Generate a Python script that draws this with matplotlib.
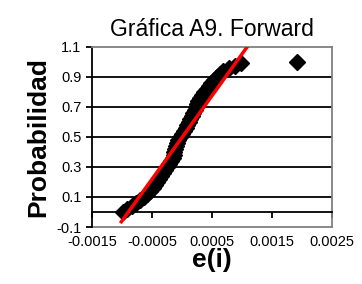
import matplotlib
matplotlib.use("Agg")
import matplotlib.pyplot as plt

plt.rcParams['font.family'] = ['Liberation Sans', 'DejaVu Sans']

# residuos e(i) y probabilidad acumulada
residuos = [-0.00099, -0.00092, -0.00084, -0.00077, -0.00070, -0.00063, -0.00058,
            -0.00053, -0.00049, -0.00045, -0.00042, -0.00038, -0.00035, -0.00031,
            -0.00028, -0.00025, -0.00022, -0.00018, -0.00015, -0.00014, -0.00013,
            -0.00012, -0.00010, -0.00009, -0.00006, -0.00003, 0.00000, 0.00003,
            0.00006, 0.00009, 0.00012, 0.00014, 0.00017, 0.00019, 0.00021,
            0.00023, 0.00025, 0.00027, 0.00030, 0.00033, 0.00037, 0.00041,
            0.00045, 0.00049, 0.00053, 0.00058, 0.00063, 0.00069, 0.00078,
            0.00088, 0.00099, 0.00191]
probabilidad = [0.003, 0.02, 0.04, 0.06, 0.08, 0.10, 0.12, 0.14, 0.16, 0.18, 0.20,
                0.22, 0.24, 0.26, 0.28, 0.30, 0.32, 0.34, 0.36, 0.38, 0.40, 0.42,
                0.44, 0.46, 0.48, 0.50, 0.52, 0.54, 0.56, 0.58, 0.60, 0.62, 0.64,
                0.66, 0.68, 0.70, 0.72, 0.74, 0.76, 0.78, 0.80, 0.82, 0.84, 0.86,
                0.88, 0.90, 0.92, 0.94, 0.96, 0.975, 0.99, 0.998]

# recta de ajuste
recta_x = [-0.00101, 0.00114]
recta_y = [-0.065, 1.13]

xticks = [-0.0015, -0.0005, 0.0005, 0.0015, 0.0025]
yticks = [-0.1, 0.1, 0.3, 0.5, 0.7, 0.9, 1.1]

fig = plt.figure(figsize=(3.62, 2.84), dpi=100)
ax = fig.add_axes([0.254, 0.2007, 0.663, 0.634])

for y in [0.1, 0.3, 0.5, 0.7, 0.9]:
    ax.axhline(y, color='black', lw=1.3, zorder=1)

ax.plot(residuos, probabilidad, 'D', color='black', ms=8, zorder=3)
ax.plot(recta_x, recta_y, color='#ff0000', lw=2.5, zorder=4, clip_on=True)

ax.set_xlim(-0.0015, 0.0025)
ax.set_ylim(-0.1, 1.1)
ax.set_yticks(yticks)
ax.set_yticklabels(['-0.1', '0.1', '0.3', '0.5', '0.7', '0.9', '1.1'], fontsize=10.5)

# eje x cruzando en y = 0
ax.spines['bottom'].set_position(('data', 0))
ax.spines['bottom'].set_color('black')
ax.spines['bottom'].set_linewidth(1.3)
ax.set_xticks(xticks)
ax.tick_params(axis='x', direction='out', length=4, width=1.3, labelbottom=False)
ax.tick_params(axis='y', direction='out', length=4, width=1.3)
ax.spines['left'].set_linewidth(1.3)
for s in ['top', 'right']:
    ax.spines[s].set_color('#808080')
    ax.spines[s].set_linewidth(1.3)

sec = ax.secondary_xaxis('bottom')
sec.set_xticks(xticks)
sec.set_xticklabels(['-0.0015', '-0.0005', '0.0005', '0.0015', '0.0025'], fontsize=10.5)
sec.tick_params(length=0, pad=6)
sec.spines['bottom'].set_color('#808080')
sec.spines['bottom'].set_linewidth(1.3)
sec.set_xlabel('e(i)', fontsize=19, fontweight='bold', labelpad=-1)

ax.set_ylabel('Probabilidad', fontsize=19, fontweight='bold', labelpad=4)
ax.set_title('Gráfica A9. Forward', fontsize=16.5, pad=8)

fig.savefig('out.png', dpi=100)
